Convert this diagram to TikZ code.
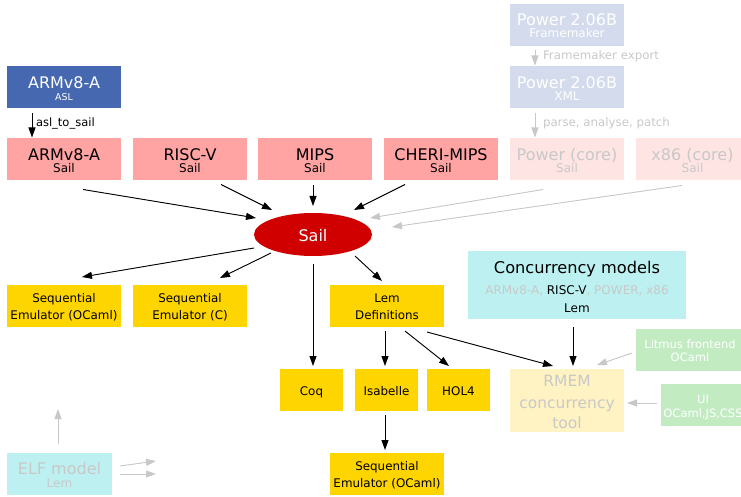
\documentclass[tikz,border=0pt]{standalone}
\usepackage{fontspec}
\setmainfont{DejaVu Sans}
\usetikzlibrary{arrows.meta,shapes.geometric}
\definecolor{aslblue}{HTML}{4568B0}
\definecolor{sailpink}{HTML}{FFA3A3}
\definecolor{palepink}{HTML}{FFE4E4}
\definecolor{paleblue}{HTML}{D3DBEC}
\definecolor{sailred}{HTML}{D00000}
\definecolor{goldbox}{HTML}{FFD500}
\definecolor{palecyan}{HTML}{BDF1F1}
\definecolor{paleyellow}{HTML}{FFF3C3}
\definecolor{palegreen}{HTML}{C2EBC2}
\definecolor{ghost}{HTML}{C8C8C8}
\tikzset{
  box/.style={rectangle, inner sep=0pt, outer sep=0pt, draw=none, minimum width=114pt, minimum height=42pt},
  ar/.style={-{Triangle[length=10pt,width=7pt]}, line width=0.9pt, draw=black, fill=black},
  garr/.style={-{Triangle[length=10pt,width=7pt]}, line width=0.9pt, draw=ghost, fill=ghost},
  lbl/.style={anchor=base, inner sep=0pt, outer sep=0pt},
  fbig/.style={font=\fontsize{16}{19}\selectfont},
  fmid/.style={font=\fontsize{15.5}{18}\selectfont},
  fconc/.style={font=\fontsize{16.2}{19}\selectfont},
  fsmall/.style={font=\fontsize{12}{14}\selectfont},
  fgreen/.style={font=\fontsize{11.5}{14}\selectfont},
  fseq/.style={font=\fontsize{11.9}{14}\selectfont},
  ftiny/.style={font=\fontsize{9.4}{11}\selectfont},
  fedge/.style={font=\fontsize{11.8}{14}\selectfont},
}
\begin{document}
\begin{tikzpicture}[x=1pt,y=-1pt]
\useasboundingbox (0,0) rectangle (741,497);

% ---- boxes ----
\node[box, fill=paleblue] (pfm) at (567,25) {};
\node[box, fill=paleblue] (pxml) at (567,87.5) {};
\node[box, fill=aslblue] (asl) at (64,87.5) {};
\node[box, fill=sailpink] (armS) at (64,159.5) {};
\node[box, fill=sailpink] (risc) at (190,159.5) {};
\node[box, fill=sailpink] (mips) at (315,159.5) {};
\node[box, fill=sailpink] (cheri) at (441,159.5) {};
\node[box, fill=palepink] (pcore) at (567,159.5) {};
\node[box, fill=palepink] (x86) at (692.5,159.5) {};
\node[ellipse, fill=sailred, inner sep=0pt, minimum width=118pt, minimum height=43pt] (sail) at (313,234.5) {};
\node[box, fill=goldbox] (seqO) at (64,306) {};
\node[box, fill=goldbox] (seqC) at (190,306) {};
\node[box, fill=goldbox] (lem) at (387,306) {};
\node[box, fill=palecyan, minimum width=218pt, minimum height=68pt] (conc) at (577,285) {};
\node[box, fill=goldbox, minimum width=63pt] (coq) at (311.5,390) {};
\node[box, fill=goldbox, minimum width=63pt] (isa) at (386.5,390) {};
\node[box, fill=goldbox, minimum width=63pt] (hol) at (458.5,390) {};
\node[box, fill=paleyellow, minimum height=63pt] (rmem) at (567,400.5) {};
\node[box, fill=palegreen, minimum width=108pt] (lit) at (690,350) {};
\node[box, fill=palegreen, minimum width=84pt] (ui) at (703,404.5) {};
\node[box, fill=goldbox] (seq2) at (387,474) {};
\node[box, fill=palecyan, minimum width=105pt] (elf) at (59.5,474) {};

% ---- texts ----
\node[lbl, fbig, text=white] (t1) at (567,26) {Power 2.06B};
\node[lbl, fsmall, text=white] (t2) at (567,37.5) {Framemaker};
\node[lbl, fbig, text=white] (t3) at (567,89) {Power 2.06B};
\node[lbl, fsmall, text=white] (t4) at (567,100.5) {XML};
\node[lbl, fbig, text=white] (t5) at (64,89) {ARMv8-A};
\node[lbl, ftiny, text=white] (t6) at (64,101) {ASL};
\node[lbl, fbig] (t7) at (64,161) {ARMv8-A};
\node[lbl, fsmall] (t8) at (64,172.5) {Sail};
\node[lbl, fbig] (t9) at (190,161) {RISC-V};
\node[lbl, fsmall] (t10) at (190,172.5) {Sail};
\node[lbl, fbig] (t11) at (315,161) {MIPS};
\node[lbl, fsmall] (t12) at (315,172.5) {Sail};
\node[lbl, fbig] (t13) at (441,161) {CHERI-MIPS};
\node[lbl, fsmall] (t14) at (441,172.5) {Sail};
\node[lbl, fbig, text=ghost] (t15) at (567,161) {Power (core)};
\node[lbl, fsmall, text=ghost] (t16) at (567,172.5) {Sail};
\node[lbl, fbig, text=ghost] (t17) at (692.5,161) {x86 (core)};
\node[lbl, fsmall, text=ghost] (t18) at (692.5,172.5) {Sail};
\node[lbl, fbig, text=white] (t19) at (313,241) {Sail};
\node[lbl, fseq] (t20) at (64,302) {Sequential};
\node[lbl, fseq] (t21) at (64,319) {Emulator (OCaml)};
\node[lbl, fseq] (t22) at (190,302) {Sequential};
\node[lbl, fseq] (t23) at (190,319) {Emulator (C)};
\node[lbl, fseq] (t24) at (387,302) {Lem};
\node[lbl, fseq] (t25) at (387,319) {Definitions};
\node[lbl, fconc] (t26) at (577,273) {Concurrency models};
\node[lbl, fsmall, text=ghost] (t27) at (577,294) {ARMv8-A, \textcolor{black}{RISC-V}, POWER, x86};
\node[lbl, fsmall] (t28) at (577,312) {Lem};
\node[lbl, fseq] (t29) at (311.5,395) {Coq};
\node[lbl, fseq] (t30) at (386.5,395) {Isabelle};
\node[lbl, fseq] (t31) at (458.5,395) {HOL4};
\node[lbl, fmid, text=ghost] (t32) at (567,386) {RMEM};
\node[lbl, fmid, text=ghost] (t33) at (567,408) {concurrency};
\node[lbl, fmid, text=ghost] (t34) at (567,428) {tool};
\node[lbl, fgreen, text=white] (t35) at (690,348) {Litmus frontend};
\node[lbl, fgreen, text=white] (t36) at (690,361) {OCaml};
\node[lbl, fgreen, text=white] (t37) at (703,403) {UI};
\node[lbl, fgreen, text=white] (t38) at (703,417) {OCaml,JS,CSS};
\node[lbl, fseq] (t39) at (387,470) {Sequential};
\node[lbl, fseq] (t40) at (387,487) {Emulator (OCaml)};
\node[lbl, fbig, text=ghost] (t41) at (59.5,474) {ELF model};
\node[lbl, fsmall, text=ghost] (t42) at (59.5,487) {Lem};

% ---- edge labels ----
\node[lbl, anchor=base west, font=\fontsize{11.5}{14}\selectfont] (l1) at (36,127) {asl\_to\_sail};
\node[lbl, anchor=base west, fedge, text=ghost] (l2) at (543,59.5) {Framemaker export};
\node[lbl, anchor=base west, fedge, text=ghost] (l3) at (543,127) {parse, analyse, patch};

% ---- free ends ----
\coordinate (elfUp) at (58,409);
\coordinate (elfR1) at (156,461);
\coordinate (elfR2) at (156,474);

% ---- connectors ----
\draw[ar] ([xshift=-32pt,yshift=-5pt]asl.south) -- ([xshift=-32pt,yshift=1pt]armS.north);
\draw[garr] ([xshift=-32pt,yshift=-4pt]pfm.south) -- ([xshift=-32pt,yshift=1pt]pxml.north);
\draw[garr] ([xshift=-32pt,yshift=-5pt]pxml.south) -- ([xshift=-32pt,yshift=1pt]pcore.north);
\draw[ar] ([xshift=19pt,yshift=-9pt]armS.south) -- ([xshift=-57pt,yshift=16.5pt]sail.center);
\draw[ar] ([xshift=31pt,yshift=-4pt]risc.south) -- ([xshift=-41pt,yshift=24.5pt]sail.center);
\draw[ar] ([xshift=-2pt,yshift=-5pt]mips.south) -- ([xshift=0pt,yshift=28.5pt]sail.center);
\draw[ar] ([xshift=-36pt,yshift=-4pt]cheri.south) -- ([xshift=41pt,yshift=24.5pt]sail.center);
\draw[garr] ([xshift=-24pt,yshift=-9pt]pcore.south) -- ([xshift=57pt,yshift=16.5pt]sail.center);
\draw[garr] ([xshift=-10.5pt,yshift=-5pt]x86.south) -- ([xshift=79pt,yshift=7.5pt]sail.center);
\draw[ar] ([xshift=-59pt,yshift=-13.5pt]sail.center) -- ([xshift=18pt,yshift=8pt]seqO.north);
\draw[ar] ([xshift=-42pt,yshift=-18.5pt]sail.center) -- ([xshift=30pt,yshift=7pt]seqC.north);
\draw[ar] ([xshift=0pt,yshift=-29.5pt]sail.center) -- ([xshift=1.5pt,yshift=3pt]coq.north);
\draw[ar] ([xshift=42pt,yshift=-21.5pt]sail.center) -- ([xshift=-5pt,yshift=4pt]lem.north);
\draw[ar] ([xshift=-2pt,yshift=-4pt]lem.south) -- ([xshift=-1.5pt,yshift=3pt]isa.north);
\draw[ar] ([xshift=18pt,yshift=-4pt]lem.south) -- ([xshift=-9.5pt,yshift=3pt]hol.north);
\draw[ar] ([xshift=40pt,yshift=-5pt]lem.south) -- ([xshift=-14pt,yshift=3pt]rmem.north);
\draw[ar] ([xshift=-4pt,yshift=-8pt]conc.south) -- ([xshift=6pt,yshift=3pt]rmem.north);
\draw[garr] ([xshift=-4pt,yshift=-3pt]lit.west) -- ([xshift=30pt,yshift=4pt]rmem.north);
\draw[garr] ([xshift=-4pt,yshift=1.5pt]ui.west) -- ([xshift=3pt,yshift=-2.5pt]rmem.east);
\draw[ar] ([xshift=-1.5pt,yshift=-4pt]isa.south) -- ([xshift=-2pt,yshift=3pt]seq2.north);
\draw[garr] ([xshift=-1.5pt,yshift=9pt]elf.north) -- (elfUp);
\draw[garr] ([xshift=8pt,yshift=8pt]elf.east) -- (elfR1);
\draw[garr] ([xshift=8pt]elf.east) -- (elfR2);
\end{tikzpicture}
\end{document}
